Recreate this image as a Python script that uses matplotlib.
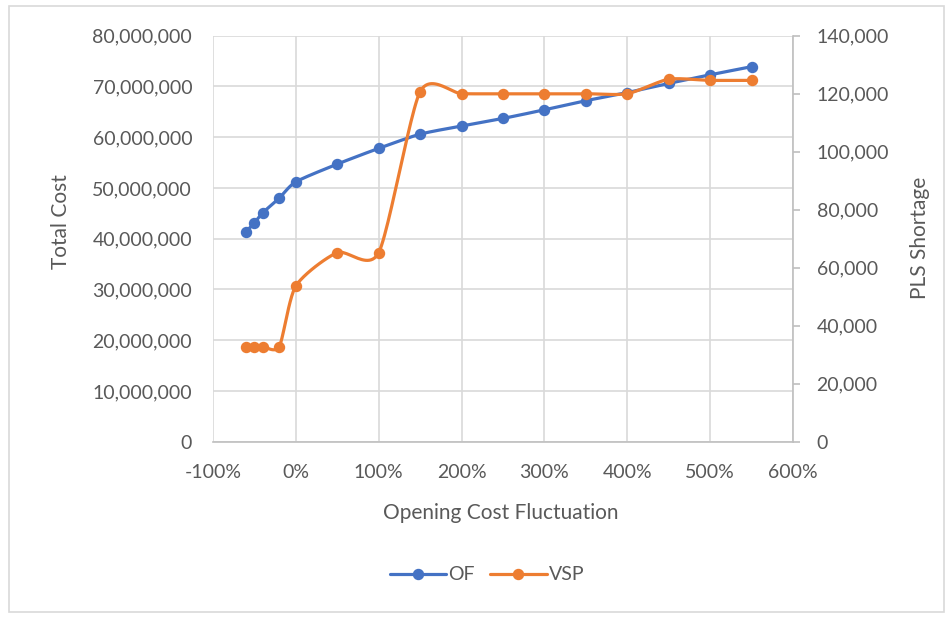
import numpy as np
import matplotlib.pyplot as plt
from matplotlib.ticker import FuncFormatter, MultipleLocator
from matplotlib.patches import Rectangle

# data
fluct = [-60, -50, -40, -20, 0, 50, 100, 150, 200, 250, 300, 350, 400, 450, 500, 550]
of_cost = [41.4e6, 43.1e6, 45.1e6, 48.0e6, 51.2e6, 54.7e6, 57.8e6, 60.6e6,
           62.2e6, 63.7e6, 65.4e6, 67.2e6, 68.8e6, 70.6e6, 72.3e6, 73.9e6]
vsp_short = [32800, 32800, 32800, 32800, 53700, 65200, 65200, 120700,
             120000, 120000, 120000, 120000, 120000, 125000, 124600, 124600]

BLUE = '#4472C4'
ORANGE = '#ED7D31'
TXT = '#595959'
GRID = '#D9D9D9'
AXLINE = '#BFBFBF'

plt.rcParams['font.family'] = ['Lato', 'DejaVu Sans']


def smooth(x, y, sx, sy, n=25, k=0.12):
    # excel-like smoothed line (bezier through the points), done in pixel space
    P = np.column_stack([np.asarray(x, float) * sx, np.asarray(y, float) * sy])
    out = [P[0]]
    t = np.linspace(0, 1, n)[1:, None]
    for i in range(len(P) - 1):
        p0 = P[i - 1] if i > 0 else P[i]
        p3 = P[i + 2] if i + 2 < len(P) else P[i + 1]
        c1 = P[i] + (P[i + 1] - p0) * k
        c2 = P[i + 1] - (p3 - P[i]) * k
        seg = (1 - t)**3 * P[i] + 3 * (1 - t)**2 * t * c1 + 3 * (1 - t) * t**2 * c2 + t**3 * P[i + 1]
        out.extend(seg)
    out = np.array(out)
    return out[:, 0] / sx, out[:, 1] / sy, list(range(0, len(out), n - 1))


fig = plt.figure(figsize=(9.52, 6.18), dpi=100)
ax = fig.add_axes([0.2237, 0.2853, 0.6093, 0.6569])
ax2 = ax.twinx()

xs = 580 / 700
bx, by, bm = smooth(fluct, of_cost, xs, 406 / 80e6)
ox, oy, om = smooth(fluct, vsp_short, xs, 406 / 140000)

ax.plot(bx, by, color=BLUE, lw=2.3, marker='o', ms=7.2, markevery=bm, label='OF',
        solid_capstyle='round')
ax2.plot(ox, oy, color=ORANGE, lw=2.3, marker='o', ms=7.2, markevery=om, label='VSP',
         solid_capstyle='round')

ax.set_xlim(-100, 600)
ax.set_ylim(0, 80e6)
ax2.set_ylim(0, 140000)
ax.xaxis.set_major_locator(MultipleLocator(100))
ax.yaxis.set_major_locator(MultipleLocator(10e6))
ax2.yaxis.set_major_locator(MultipleLocator(20000))
ax.xaxis.set_major_formatter(FuncFormatter(lambda v, p: f'{int(round(v))}%'))
ax.yaxis.set_major_formatter(FuncFormatter(lambda v, p: f'{int(v):,}'))
ax2.yaxis.set_major_formatter(FuncFormatter(lambda v, p: f'{int(v):,}'))

ax.grid(True, color=GRID, lw=1.2)
ax.set_axisbelow(True)
for a in (ax, ax2):
    for s in a.spines.values():
        s.set_visible(False)
ax2.spines['right'].set_visible(True)
ax2.spines['right'].set_color(AXLINE)
ax2.spines['right'].set_linewidth(1.2)
ax.spines['bottom'].set_visible(True)
ax.spines['bottom'].set_color(AXLINE)
ax.spines['bottom'].set_linewidth(1.2)

ax.tick_params(axis='x', length=0, pad=16, labelsize=14, labelcolor=TXT)
ax.tick_params(axis='y', length=0, pad=15, labelsize=14, labelcolor=TXT)
ax2.tick_params(axis='y', length=5, width=1.2, color=AXLINE, pad=12, labelsize=14, labelcolor=TXT)

fig.text(501 / 952, 1 - 513 / 618, 'Opening Cost Fluctuation', ha='center', va='center',
         fontsize=15, color=TXT)
fig.text(61 / 952, 1 - 222 / 618, 'Total Cost', ha='center', va='center', rotation=90,
         fontsize=15, color=TXT)
fig.text(920 / 952, 1 - 238 / 618, 'PLS Shortage', ha='center', va='center', rotation=90,
         fontsize=15, color=TXT)

h1, l1 = ax.get_legend_handles_labels()
h2, l2 = ax2.get_legend_handles_labels()
leg = fig.legend(h1 + h2, l1 + l2, loc='center', bbox_to_anchor=(487 / 952, 1 - 575 / 618),
                 ncol=2, frameon=False, fontsize=14, handlelength=2.9, handletextpad=0.1,
                 columnspacing=0.8, numpoints=1)
for t in leg.get_texts():
    t.set_color(TXT)

fig.patches.append(Rectangle((9 / 952, 6 / 618), 935 / 952, 606 / 618, transform=fig.transFigure,
                             fill=False, edgecolor=GRID, lw=1.2))

fig.savefig('out.png', dpi=100)
